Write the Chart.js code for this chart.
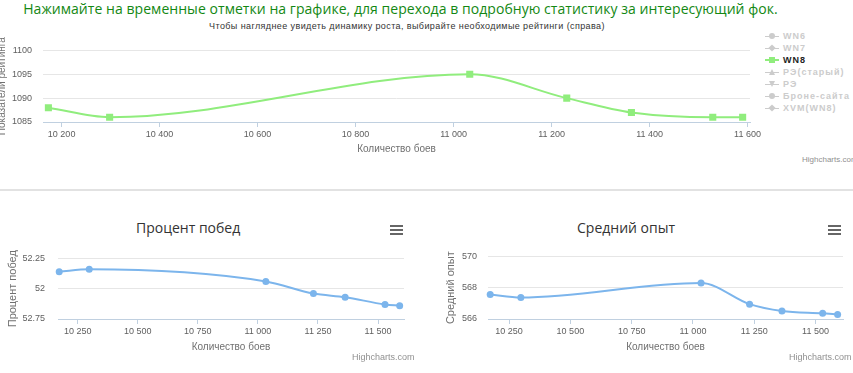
<!DOCTYPE html>
<html>
<head>
<meta charset="utf-8">
<script src="https://cdn.jsdelivr.net/npm/chart.js@4.4.1/dist/chart.umd.min.js"></script>
<style>
    body { margin: 0; width: 853px; height: 373px; overflow: hidden; background: #fff; position: relative;
           font-family: "Liberation Sans", Arial, sans-serif; }
    .abs { position: absolute; white-space: nowrap; }
    canvas { position: absolute; }
    #headline { left: 0; width: 801px; top: -1px; text-align: center; color: #138813;
                font-family: "Open Sans", sans-serif; font-size: 14px; letter-spacing: 0.05px; }
    #subtitle { left: 0; width: 814px; top: 21px; text-align: center; color: #333; font-size: 9px; letter-spacing: 0.4px; }
    .credits { color: #909090; font-size: 8px; }
    .chart-title { color: #333; font-family: "Open Sans", sans-serif; font-size: 14px; }
    .menu { width: 13px; height: 10px;
            background: linear-gradient(#666 0 2px, transparent 2px 4px, #666 4px 6px, transparent 6px 8px, #666 8px 10px); }
    #separator { left: 0; top: 189px; width: 853px; height: 2px; background: #e2e2e2; }
    #legend { left: 765px; top: 30px; font-size: 9px; font-weight: bold; letter-spacing: 1px; }
    .legend-item { height: 12px; line-height: 12px; color: #ccc; position: relative; padding-left: 18px; }
    .legend-item.active { color: #222; }
    .legend-item .line { position: absolute; left: 0; top: 6px; width: 14px; height: 1px; background: #ccc; }
    .legend-item .sym { position: absolute; left: 4px; top: 3px; width: 6px; height: 6px; background: #ccc; }
</style>
</head>
<body>
<div id="headline" class="abs">Нажимайте на временные отметки на графике, для перехода в подробную статистику за интересующий фок.</div>
<div id="subtitle" class="abs">Чтобы нагляднее увидеть динамику роста, выбирайте необходимые рейтинги (справа)</div>
<div id="legend" class="abs"></div>
<div class="abs credits" style="left:802px; top:155px;">Highcharts.com</div>
<canvas id="ratingChart" width="766" height="124" style="left:0; top:34px;"></canvas>

<div id="separator" class="abs"></div>

<div class="abs chart-title" style="left:136px; top:218px;">Процент побед</div>
<div class="abs menu" style="left:390px; top:225px;"></div>
<canvas id="winChart" width="420" height="115" style="left:0; top:240px;"></canvas>
<div class="abs credits" style="left:352px; top:352px; font-size:9px;">Highcharts.com</div>

<div class="abs chart-title" style="left:577px; top:218px;">Средний опыт</div>
<div class="abs menu" style="left:828px; top:225px;"></div>
<canvas id="expChart" width="433" height="115" style="left:420px; top:240px;"></canvas>
<div class="abs credits" style="left:789px; top:352px; font-size:9px;">Highcharts.com</div>

<script>
// battle counts for each snapshot
const battles = [10173, 10298, 11033, 11231, 11363, 11529, 11590];

// series values
const wn8 = [1088, 1086, 1095, 1090, 1087, 1086, 1086];
const winRate = [52.14, 52.16, 52.06, 51.96, 51.93, 51.87, 51.86];
const avgExp = [567.56, 567.37, 568.3, 566.95, 566.51, 566.36, 566.29];

// legend of the rating chart (only WN8 is switched on)
const ratingNames = ['WN6', 'WN7', 'WN8', 'РЭ(старый)', 'РЭ', 'Броне-сайта', 'XVM(WN8)'];
const ratingSymbols = ['circle', 'diamond', 'square', 'triangle', 'triangle-down', 'circle', 'diamond'];
const activeRating = 'WN8';

// axis ranges and ticks
const ratingRangeX = [10162, 11605];
const winRangeX = [10168, 11608];
const expRangeX = [10164, 11612];
const ratingTicksX = [10200, 10400, 10600, 10800, 11000, 11200, 11400, 11600];
const smallTicksX = [10250, 10500, 10750, 11000, 11250, 11500];
const ratingTicksY = [1085, 1090, 1095, 1100];
const winTicksY = [51.75, 52, 52.25];
const winTickLabels = ['52.75', '52', '52.25'];
const expTicksY = [566, 568, 570];

// axis titles
const xTitle = 'Количество боев';
const ratingTitleY = 'Показатели рейтинга';
const winTitleY = 'Процент побед';
const expTitleY = 'Средний опыт';

document.addEventListener('DOMContentLoaded', function() {
    buildLegend();
    initCharts();
});

/**
 * Legend on the right of the rating chart
 */
function buildLegend() {
    const legend = document.getElementById('legend');
    ratingNames.forEach((name, i) => {
        const item = document.createElement('div');
        item.className = 'legend-item' + (name === activeRating ? ' active' : '');
        const line = document.createElement('span');
        line.className = 'line';
        const sym = document.createElement('span');
        sym.className = 'sym';
        const shape = ratingSymbols[i];
        if (name === activeRating) {
            line.style.background = '#90ed7d';
            sym.style.background = '#90ed7d';
            line.style.height = '2px';
            line.style.top = '5px';
        }
        if (shape === 'circle') sym.style.borderRadius = '50%';
        if (shape === 'diamond') sym.style.transform = 'rotate(45deg) scale(0.85)';
        if (shape === 'triangle') sym.style.clipPath = 'polygon(50% 0, 100% 100%, 0 100%)';
        if (shape === 'triangle-down') sym.style.clipPath = 'polygon(0 0, 100% 0, 50% 100%)';
        item.appendChild(line);
        item.appendChild(sym);
        item.appendChild(document.createTextNode(name));
        legend.appendChild(item);
    });
}

function formatThousands(v) {
    return String(v).replace(/\B(?=(\d{3})+(?!\d))/g, ' ');
}

/**
 * Shared line chart builder
 */
function makeLineChart(id, s) {
    const font = { family: '"Liberation Sans", Arial, sans-serif', size: 9 };
    return new Chart(document.getElementById(id), {
        type: 'line',
        data: {
            datasets: [{
                data: battles.map((b, i) => ({ x: b, y: s.values[i] })),
                borderColor: s.color,
                backgroundColor: s.color,
                borderWidth: 2,
                pointStyle: s.pointStyle,
                pointRadius: s.pointRadius,
                pointBorderWidth: 0,
                cubicInterpolationMode: 'monotone',
                clip: 8
            }]
        },
        options: {
            responsive: false,
            animation: false,
            devicePixelRatio: 1,
            layout: { padding: s.padding },
            plugins: { legend: { display: false }, tooltip: { enabled: false } },
            scales: {
                x: {
                    type: 'linear',
                    min: s.rangeX[0],
                    max: s.rangeX[1],
                    afterBuildTicks: scale => { scale.ticks = s.ticksX.map(v => ({ value: v })); },
                    afterFit: scale => { scale.height = 34; },
                    grid: { drawOnChartArea: false, drawTicks: true, tickLength: 5, color: '#c0d0e0' },
                    border: { display: true, color: '#c0d0e0' },
                    ticks: { font: font, color: '#606060', padding: 2, maxRotation: 0, autoSkip: false,
                             callback: v => formatThousands(v) },
                    title: { display: true, text: xTitle, color: '#707070',
                             font: { family: font.family, size: 10 }, padding: { top: 0, bottom: s.xTitlePad } }
                },
                y: {
                    min: s.ticksY[0],
                    max: s.ticksY[s.ticksY.length - 1],
                    afterBuildTicks: scale => { scale.ticks = s.ticksY.map(v => ({ value: v })); },
                    afterFit: scale => { scale.width = s.yWidth; },
                    grid: { color: '#e6e6e6', drawTicks: false },
                    border: { display: false },
                    ticks: { font: font, color: '#606060', padding: s.yTickPad,
                             callback: s.yLabel || (v => String(v)) },
                    title: { display: true, text: s.titleY, color: '#707070',
                             font: { family: font.family, size: s.titleYSize }, padding: { top: s.yTitlePad, bottom: 0 } }
                }
            }
        }
    });
}

/**
 * Build the three charts
 */
function initCharts() {
    makeLineChart('ratingChart', {
        values: wn8, color: '#90ed7d', pointStyle: 'rect', pointRadius: 5,
        rangeX: ratingRangeX, ticksX: ratingTicksX, ticksY: ratingTicksY,
        padding: { top: 10, right: 16, bottom: 2, left: 0 },
        yWidth: 43, yTickPad: 11, xTitlePad: 1,
        titleY: ratingTitleY, titleYSize: 10, yTitlePad: -4
    });

    makeLineChart('winChart', {
        values: winRate, color: '#7cb5ec', pointStyle: 'circle', pointRadius: 3.5,
        rangeX: winRangeX, ticksX: smallTicksX, ticksY: winTicksY,
        padding: { top: 9, right: 16, bottom: 2, left: 0 },
        yWidth: 58, yTickPad: 13, xTitlePad: 0,
        titleY: winTitleY, titleYSize: 11, yTitlePad: 6,
        yLabel: (v, i) => winTickLabels[i]
    });

    makeLineChart('expChart', {
        values: avgExp, color: '#7cb5ec', pointStyle: 'circle', pointRadius: 3.5,
        rangeX: expRangeX, ticksX: smallTicksX, ticksY: expTicksY,
        padding: { top: 9, right: 10, bottom: 2, left: 0 },
        yWidth: 68, yTickPad: 11, xTitlePad: 0,
        titleY: expTitleY, titleYSize: 11, yTitlePad: 24
    });
}
</script>
</body>
</html>
